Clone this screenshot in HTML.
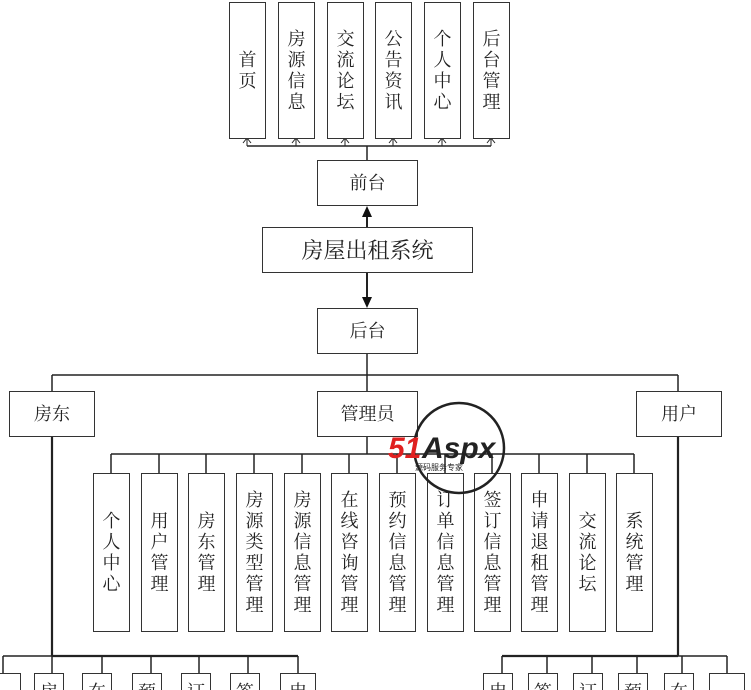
<!DOCTYPE html>
<html style="margin:0;width:751px;height:690px;overflow:hidden"><head><meta charset="utf-8"><style>
body{margin:0;width:751px;height:690px;overflow:hidden;background:#fff;position:relative;font-family:"Liberation Serif","Noto Serif CJK SC",serif;}
.b{position:absolute;border:1.5px solid #333;box-sizing:border-box;background:#fff;display:flex;align-items:center;justify-content:center;text-align:center;color:#222;font-size:18px;line-height:21px;}
.s{position:absolute;border:1.5px solid #333;border-bottom:none;box-sizing:border-box;background:#fff;text-align:center;color:#222;font-size:18px;line-height:21px;top:673px;height:17px;padding-top:8px;overflow:hidden;width:30px}
svg{position:absolute;left:0;top:0}
</style></head><body>
<svg width="751" height="690" stroke="#222" stroke-width="1.5" fill="none">
<line x1="247" y1="146" x2="491" y2="146"/>
<line x1="367" y1="146" x2="367" y2="160"/>
<g stroke-width="1">
<path d="M243 143 L247 138 L251 143 M247 138 L247 146"/>
<path d="M292 143 L296 138 L300 143 M296 138 L296 146"/>
<path d="M341 143 L345 138 L349 143 M345 138 L345 146"/>
<path d="M389 143 L393 138 L397 143 M393 138 L393 146"/>
<path d="M438 143 L442 138 L446 143 M442 138 L442 146"/>
<path d="M487 143 L491 138 L495 143 M491 138 L491 146"/>
</g>
<line x1="367" y1="215" x2="367" y2="227" stroke-width="2"/>
<polygon points="362,217 372,217 367,206" fill="#111" stroke="none"/>
<line x1="367" y1="272" x2="367" y2="298" stroke-width="2"/>
<polygon points="362,297 372,297 367,308" fill="#111" stroke="none"/>
<line x1="367" y1="353" x2="367" y2="391"/>
<line x1="52" y1="375" x2="678" y2="375"/>
<line x1="52" y1="375" x2="52" y2="391"/>
<line x1="678" y1="375" x2="678" y2="391"/>
<line x1="367" y1="436" x2="367" y2="454"/>
<line x1="111" y1="454" x2="634" y2="454"/>
<line x1="111" y1="454" x2="111" y2="473"/><line x1="159" y1="454" x2="159" y2="473"/><line x1="206" y1="454" x2="206" y2="473"/><line x1="254" y1="454" x2="254" y2="473"/><line x1="302" y1="454" x2="302" y2="473"/><line x1="349" y1="454" x2="349" y2="473"/><line x1="397" y1="454" x2="397" y2="473"/><line x1="445" y1="454" x2="445" y2="473"/><line x1="492" y1="454" x2="492" y2="473"/><line x1="539" y1="454" x2="539" y2="473"/><line x1="587" y1="454" x2="587" y2="473"/><line x1="634" y1="454" x2="634" y2="473"/>
<line x1="52" y1="436" x2="52" y2="656" stroke-width="2.2"/>
<line x1="3" y1="656" x2="298" y2="656"/>
<line x1="52" y1="656" x2="298" y2="656" stroke-width="2.2"/>
<line x1="3" y1="656" x2="3" y2="673"/><line x1="52" y1="656" x2="52" y2="673"/><line x1="102" y1="656" x2="102" y2="673"/><line x1="151" y1="656" x2="151" y2="673"/><line x1="199" y1="656" x2="199" y2="673"/><line x1="248" y1="656" x2="248" y2="673"/><line x1="298" y1="656" x2="298" y2="673"/>
<line x1="678" y1="436" x2="678" y2="656" stroke-width="2.2"/>
<line x1="502" y1="656" x2="727" y2="656"/>
<line x1="502" y1="656" x2="678" y2="656" stroke-width="2.2"/>
<line x1="502" y1="656" x2="502" y2="673"/><line x1="547" y1="656" x2="547" y2="673"/><line x1="592" y1="656" x2="592" y2="673"/><line x1="637" y1="656" x2="637" y2="673"/><line x1="682" y1="656" x2="682" y2="673"/><line x1="727" y1="656" x2="727" y2="673"/>
</svg>

<div class="b" style="left:229px;top:2px;width:37px;height:137px">首<br>页</div>
<div class="b" style="left:278px;top:2px;width:37px;height:137px">房<br>源<br>信<br>息</div>
<div class="b" style="left:327px;top:2px;width:37px;height:137px">交<br>流<br>论<br>坛</div>
<div class="b" style="left:375px;top:2px;width:37px;height:137px">公<br>告<br>资<br>讯</div>
<div class="b" style="left:424px;top:2px;width:37px;height:137px">个<br>人<br>中<br>心</div>
<div class="b" style="left:473px;top:2px;width:37px;height:137px">后<br>台<br>管<br>理</div>

<div class="b" style="left:317px;top:160px;width:101px;height:46px">前台</div>
<div class="b" style="left:262px;top:227px;width:211px;height:46px;font-size:22px">房屋出租系统</div>
<div class="b" style="left:317px;top:308px;width:101px;height:46px">后台</div>
<div class="b" style="left:9px;top:391px;width:86px;height:46px">房东</div>
<div class="b" style="left:317px;top:391px;width:101px;height:46px">管理员</div>
<div class="b" style="left:636px;top:391px;width:86px;height:46px">用户</div>

<div class="b" style="left:93px;top:473px;width:37px;height:159px">个<br>人<br>中<br>心</div>
<div class="b" style="left:141px;top:473px;width:37px;height:159px">用<br>户<br>管<br>理</div>
<div class="b" style="left:188px;top:473px;width:37px;height:159px">房<br>东<br>管<br>理</div>
<div class="b" style="left:236px;top:473px;width:37px;height:159px">房<br>源<br>类<br>型<br>管<br>理</div>
<div class="b" style="left:284px;top:473px;width:37px;height:159px">房<br>源<br>信<br>息<br>管<br>理</div>
<div class="b" style="left:331px;top:473px;width:37px;height:159px">在<br>线<br>咨<br>询<br>管<br>理</div>
<div class="b" style="left:379px;top:473px;width:37px;height:159px">预<br>约<br>信<br>息<br>管<br>理</div>
<div class="b" style="left:427px;top:473px;width:37px;height:159px">订<br>单<br>信<br>息<br>管<br>理</div>
<div class="b" style="left:474px;top:473px;width:37px;height:159px">签<br>订<br>信<br>息<br>管<br>理</div>
<div class="b" style="left:521px;top:473px;width:37px;height:159px">申<br>请<br>退<br>租<br>管<br>理</div>
<div class="b" style="left:569px;top:473px;width:37px;height:159px">交<br>流<br>论<br>坛</div>
<div class="b" style="left:616px;top:473px;width:37px;height:159px">系<br>统<br>管<br>理</div>

<div class="s" style="left:-9px"></div>
<div class="s" style="left:34px">房</div>
<div class="s" style="left:82px">在</div>
<div class="s" style="left:132px">预</div>
<div class="s" style="left:181px">订</div>
<div class="s" style="left:230px">签</div>
<div class="s" style="left:280px;width:36px">申</div>

<div class="s" style="left:483px">申</div>
<div class="s" style="left:528px">签</div>
<div class="s" style="left:573px">订</div>
<div class="s" style="left:618px">预</div>
<div class="s" style="left:664px">在</div>
<div class="s" style="left:709px;width:36px"></div>

<svg width="751" height="690">
<circle cx="459" cy="448" r="45" fill="none" stroke="#222" stroke-width="2.5"/>
<text x="388" y="458" font-family="Liberation Sans,sans-serif" font-weight="bold" font-style="italic" font-size="30" fill="#e02020">51</text>
<text x="422" y="458" font-family="Liberation Sans,sans-serif" font-weight="bold" font-style="italic" font-size="30" fill="#222">Aspx</text>
<text x="415" y="470" font-family="Noto Sans CJK SC,sans-serif" font-size="8" fill="#222">源码服务专家</text>
</svg>
</body></html>
